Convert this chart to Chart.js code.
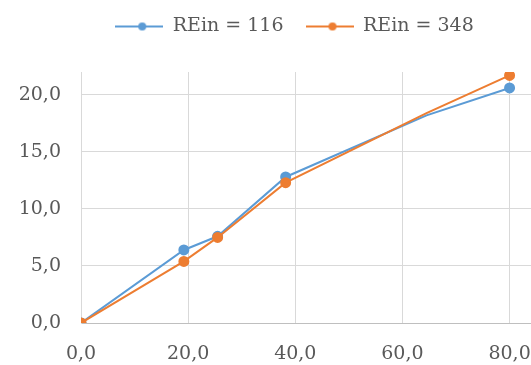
<!DOCTYPE html>
<html>
<head>
<meta charset="utf-8">
<script src="https://cdn.jsdelivr.net/npm/chart.js@4.4.1/dist/chart.umd.min.js"></script>
<style>
  html, body { margin: 0; padding: 0; background: #fff; }
  #wrap { width: 531px; height: 365px; position: relative; }
</style>
</head>
<body>
<div id="wrap"><canvas id="chart"></canvas></div>
<script>
// values
const xValues = [0, 19.2, 25.5, 38.2, 64.5, 80];
const rein116 = [0, 6.4, 7.6, 12.8, 18.2, 20.6];
const rein348 = [0, 5.4, 7.5, 12.3, 18.4, 21.7];
const seriesNames = ['REin = 116', 'REin = 348'];
const xTicks = [0, 20, 40, 60, 80];
const yTicks = [0, 5, 10, 15, 20];
const noMarkerAt = [4]; // bend in the line, no marker drawn there

const blue = '#5b9bd5';
const orange = '#ed7d31';
const textColor = '#595959';
const gridColor = '#d9d9d9';
const font = { family: '"DejaVu Serif", "Liberation Serif", serif', size: 19 };

const toPoints = ys => xValues.map((x, i) => ({ x: x, y: ys[i] }));
const fmt = v => Number(v).toFixed(1).replace('.', ',');

// little line + dot used as legend symbol
function legendIcon(color) {
    const c = document.createElement('canvas');
    c.width = 48; c.height = 10;
    const g = c.getContext('2d');
    g.strokeStyle = color; g.lineWidth = 2;
    g.beginPath(); g.moveTo(0, 5); g.lineTo(48, 5); g.stroke();
    g.fillStyle = color;
    g.beginPath(); g.arc(27, 5, 4, 0, Math.PI * 2); g.fill();
    return c;
}

// legend sits a bit right of centre and leaves a gap above the plot
const legendTweak = {
    id: 'legendTweak',
    afterInit(chart) {
        const lg = chart.legend;
        const fit = lg.fit;
        lg.fit = function () { fit.call(this); this.height = 77; };
    },
    beforeDraw(chart) {
        chart.legend.left = 58;
    }
};

const colors = [blue, orange];
const datasets = [rein116, rein348].map((ys, i) => ({
    label: seriesNames[i],
    data: toPoints(ys),
    showLine: true,
    borderColor: colors[i],
    backgroundColor: colors[i],
    borderWidth: 2,
    pointRadius: c => noMarkerAt.includes(c.dataIndex) ? 0 : 4.5,
    pointHoverRadius: 4.5,
    order: i === 0 ? 1 : 0
}));

new Chart(document.getElementById('chart'), {
    type: 'scatter',
    data: { datasets: datasets },
    plugins: [legendTweak],
    options: {
        responsive: true,
        maintainAspectRatio: false,
        animation: false,
        layout: { autoPadding: false, padding: { top: -5, right: 0, bottom: 0, left: 0 } },
        plugins: {
            tooltip: { enabled: false },
            legend: {
                position: 'top',
                labels: {
                    color: textColor,
                    font: font,
                    usePointStyle: true,
                    pointStyleWidth: 48,
                    padding: 22,
                    generateLabels: chart => chart.data.datasets.map((ds, i) => ({
                        text: ds.label,
                        pointStyle: legendIcon(ds.borderColor),
                        fillStyle: ds.borderColor,
                        strokeStyle: ds.borderColor,
                        lineWidth: 0,
                        fontColor: textColor,
                        datasetIndex: i
                    }))
                }
            }
        },
        scales: {
            x: {
                type: 'linear',
                min: 0,
                max: 84,
                afterBuildTicks: s => { s.ticks = xTicks.map(v => ({ value: v })); },
                afterFit: s => { s.height = 42; s.paddingLeft = 0; s.paddingRight = 0; },
                grid: { color: gridColor, drawTicks: false },
                border: { color: '#bfbfbf', width: 1 },
                ticks: { color: textColor, font: font, padding: 20, callback: fmt, maxRotation: 0 }
            },
            y: {
                type: 'linear',
                min: 0,
                max: 22,
                afterBuildTicks: s => { s.ticks = yTicks.map(v => ({ value: v })); },
                afterFit: s => { s.width = 81; s.paddingTop = 0; s.paddingBottom = 0; },
                grid: { color: gridColor, drawTicks: false },
                border: { color: gridColor, width: 1 },
                ticks: { color: textColor, font: font, padding: 20, callback: fmt }
            }
        }
    }
});
</script>
</body>
</html>
